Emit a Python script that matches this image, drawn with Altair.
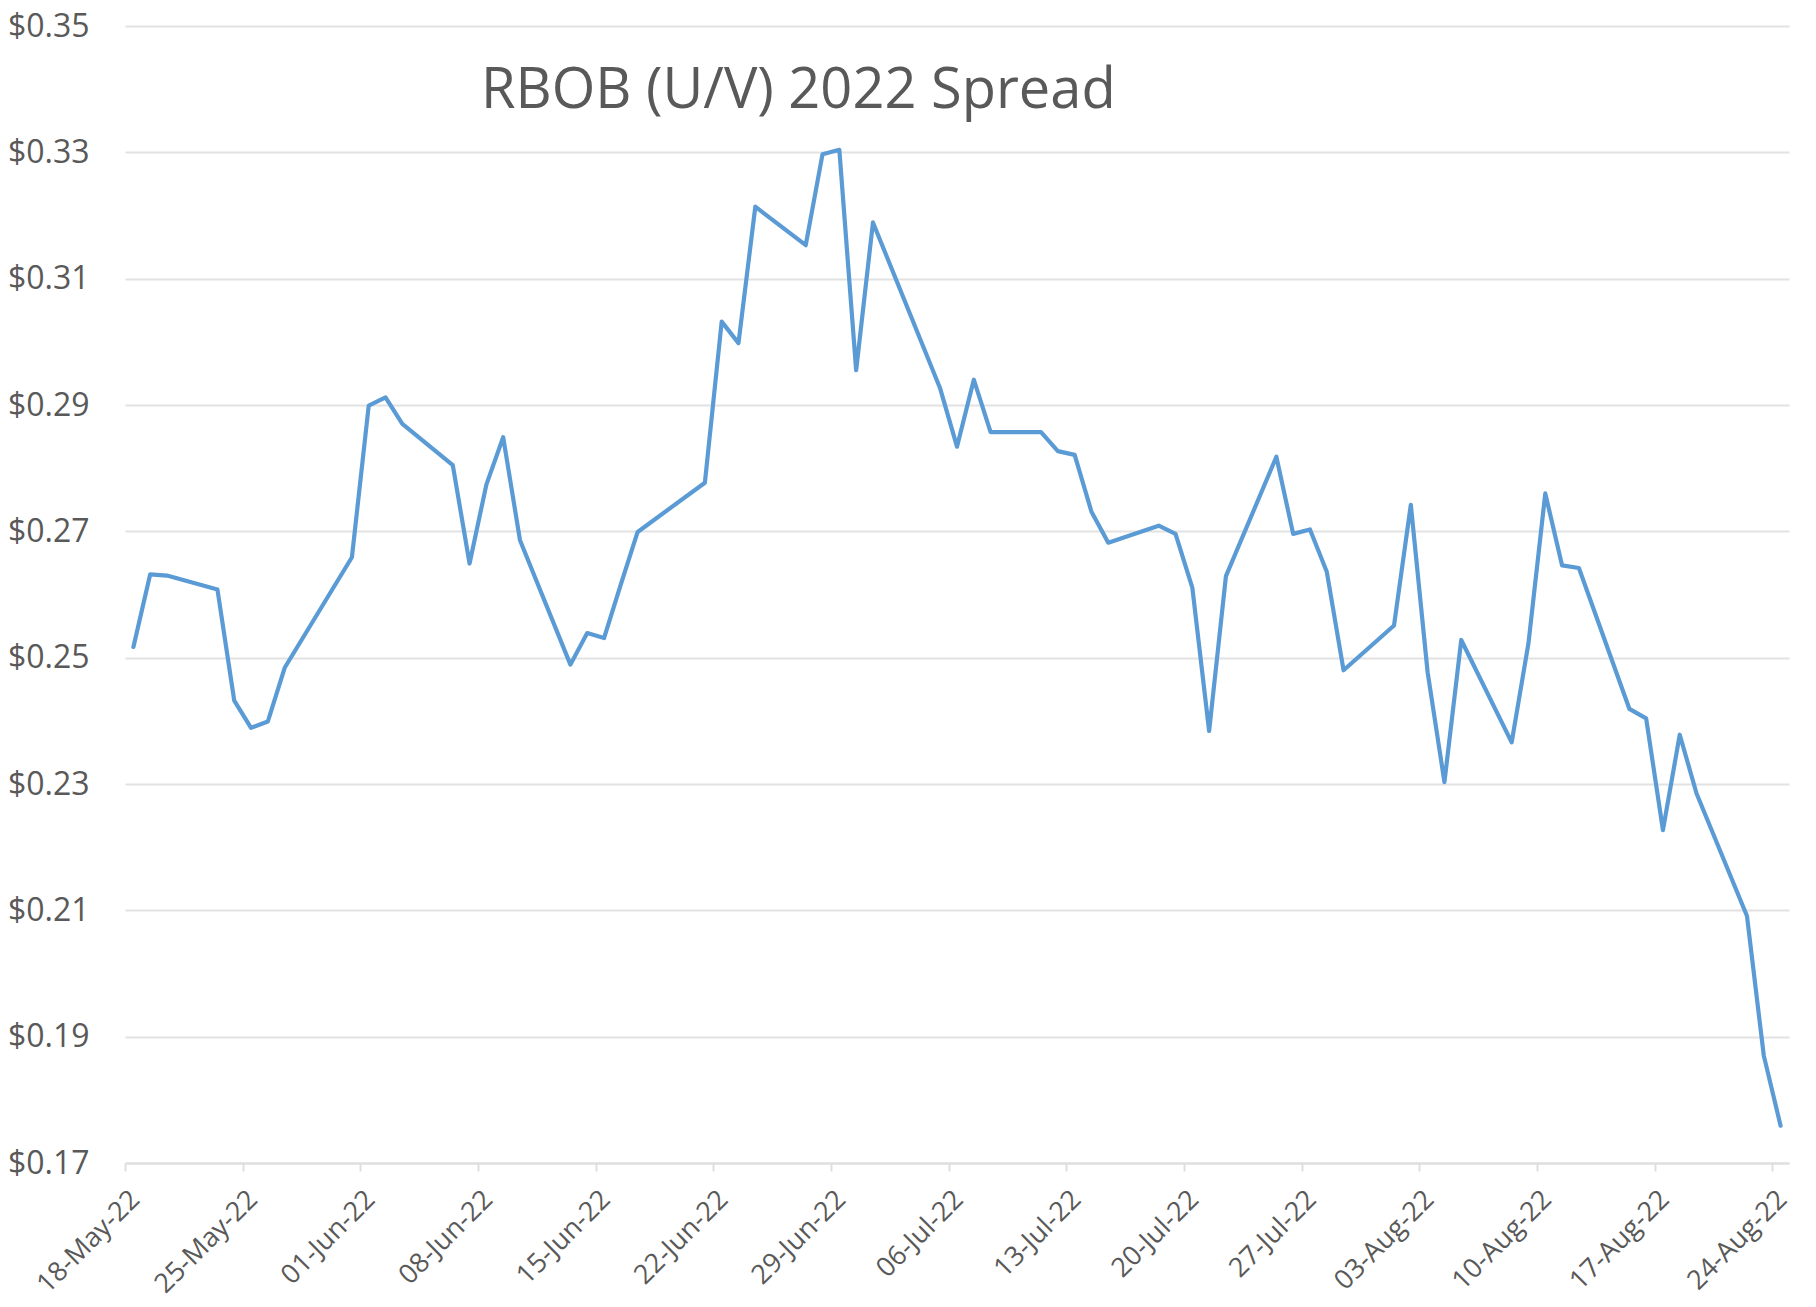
import altair as alt
import pandas as pd

dates = [
    "2022-05-18", "2022-05-19", "2022-05-20", "2022-05-23", "2022-05-24", "2022-05-25", "2022-05-26", "2022-05-27", "2022-05-31",
    "2022-06-01", "2022-06-02", "2022-06-03", "2022-06-06", "2022-06-07", "2022-06-08", "2022-06-09", "2022-06-10",
    "2022-06-13", "2022-06-14", "2022-06-15", "2022-06-16", "2022-06-17", "2022-06-21", "2022-06-22", "2022-06-23",
    "2022-06-24", "2022-06-27", "2022-06-28", "2022-06-29", "2022-06-30",
    "2022-07-01", "2022-07-05", "2022-07-06", "2022-07-07", "2022-07-08", "2022-07-11", "2022-07-12", "2022-07-13",
    "2022-07-14", "2022-07-15", "2022-07-18", "2022-07-19", "2022-07-20", "2022-07-21", "2022-07-22", "2022-07-25",
    "2022-07-26", "2022-07-27", "2022-07-28", "2022-07-29",
    "2022-08-01", "2022-08-02", "2022-08-03", "2022-08-04", "2022-08-05", "2022-08-08", "2022-08-09", "2022-08-10",
    "2022-08-11", "2022-08-12", "2022-08-15", "2022-08-16", "2022-08-17", "2022-08-18", "2022-08-19", "2022-08-22",
    "2022-08-23", "2022-08-24",
]
spread = [
    0.2517, 0.2632, 0.2630, 0.2608, 0.2432, 0.2389, 0.2399, 0.2484, 0.2659,
    0.2899, 0.2912, 0.2870, 0.2805, 0.2649, 0.2774, 0.2849, 0.2686,
    0.2489, 0.2539, 0.2531, 0.2616, 0.2699, 0.2777, 0.3032, 0.2998,
    0.3214, 0.3153, 0.3297, 0.3304, 0.2955,
    0.3189, 0.2926, 0.2834, 0.2940, 0.2857, 0.2857, 0.2827, 0.2821,
    0.2731, 0.2682, 0.2709, 0.2696, 0.2611, 0.2384, 0.2629, 0.2818,
    0.2696, 0.2703, 0.2636, 0.2480,
    0.2551, 0.2742, 0.2477, 0.2303, 0.2528, 0.2366, 0.2523, 0.2760,
    0.2646, 0.2642, 0.2419, 0.2404, 0.2227, 0.2378, 0.2285, 0.2091,
    0.1870, 0.1759,
]
tick_dates = [
    (5, 18), (5, 25), (6, 1), (6, 8), (6, 15), (6, 22), (6, 29),
    (7, 6), (7, 13), (7, 20), (7, 27), (8, 3), (8, 10), (8, 17), (8, 24),
]
y_ticks = [0.17, 0.19, 0.21, 0.23, 0.25, 0.27, 0.29, 0.31, 0.33, 0.35]
title_text = "RBOB (U/V) 2022 Spread"

FONT = "Open Sans"
GREY = "#595959"

# Excel date axis centres each day's point in the middle of its day slot
df = pd.DataFrame({
    "date": [d + "T12:00:00" for d in dates],
    "spread": spread,
})

x_enc = alt.X(
    "date:T",
    scale=alt.Scale(
        domain=[alt.DateTime(year=2022, month=5, date=18), alt.DateTime(year=2022, month=8, date=25)],
        nice=False,
    ),
    axis=alt.Axis(
        values=[alt.DateTime(year=2022, month=m, date=d) for m, d in tick_dates],
        format="%d-%b-%y",
        labelAngle=-45,
        labelAlign="right",
        labelBaseline="middle",
        labelFont=FONT,
        labelFontSize=27,
        labelColor=GREY,
        labelPadding=24,
        labelOffset=10,
        domain=True,
        domainColor="#dedede",
        domainWidth=2,
        ticks=True,
        tickColor="#dedede",
        tickWidth=2,
        tickSize=8,
        grid=False,
        title=None,
        labelOverlap=False,
    ),
)

y_enc = alt.Y(
    "spread:Q",
    scale=alt.Scale(domain=[0.17, 0.35], nice=False, zero=False),
    axis=alt.Axis(
        values=y_ticks,
        format="$.2f",
        labelFont=FONT,
        labelFontSize=32,
        labelColor=GREY,
        labelPadding=36,
        domain=False,
        ticks=False,
        grid=True,
        gridColor="#e2e2e2",
        gridWidth=2,
        title=None,
        labelOverlap=False,
    ),
)

line = alt.Chart(df).mark_line(
    color="#5B9BD5", strokeWidth=4.2, strokeJoin="round", strokeCap="round"
).encode(x=x_enc, y=y_enc)

title = alt.Chart(pd.DataFrame({"t": [title_text]})).mark_text(
    font=FONT, fontSize=56, color=GREY, align="left", baseline="alphabetic"
).encode(text="t:N", x=alt.value(356), y=alt.value(82))

chart = alt.layer(line, title).properties(
    width=1664,
    height=1137,
    autosize=alt.AutoSizeParams(type="none"),
    padding={"left": 117, "top": 18, "right": 19, "bottom": 136},
    background="white",
).configure_view(stroke=None)

chart.save("out.html", embed_options={"renderer": "svg", "actions": False})
